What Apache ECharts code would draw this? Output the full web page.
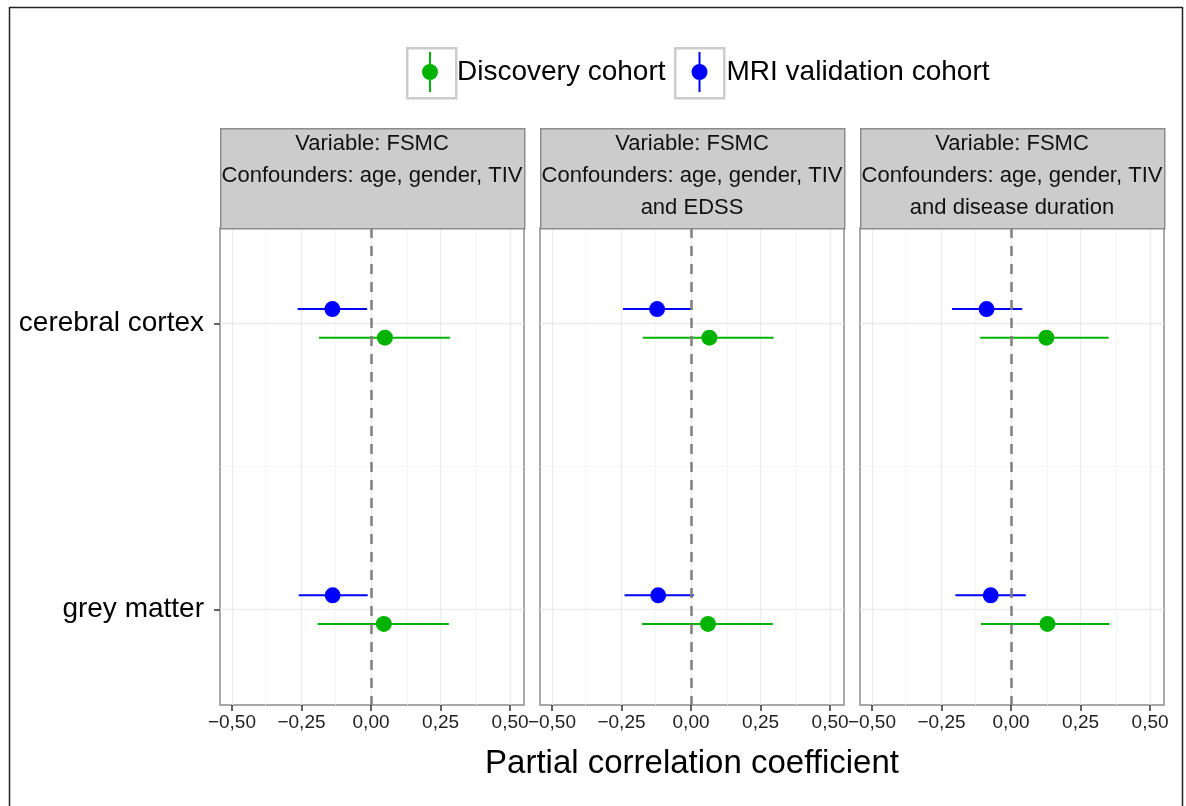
<!DOCTYPE html>
<html>
<head>
<meta charset="utf-8">
<script src="https://cdn.jsdelivr.net/npm/echarts@6.0.0/dist/echarts.min.js"></script>
<style>
  html, body { margin: 0; padding: 0; background: #fff; }
  #chart { width: 1186px; height: 806px; }
</style>
</head>
<body>
<div id="chart"></div>
<script>
// ---------------- data ----------------
const categories = ['cerebral cortex', 'grey matter'];
const catPos = [1, 4];                       // positions of the two rows on the hidden row scale
const panelTitles = [
  ['Variable: FSMC', 'Confounders: age, gender, TIV'],
  ['Variable: FSMC', 'Confounders: age, gender, TIV', 'and EDSS'],
  ['Variable: FSMC', 'Confounders: age, gender, TIV', 'and disease duration']
];
const seriesNames = ['Discovery cohort', 'MRI validation cohort'];
// [panel][category]
const discoveryEst = [[0.050, 0.046], [0.066, 0.061], [0.127, 0.131]];
const discoveryLo  = [[-0.187, -0.192], [-0.173, -0.176], [-0.111, -0.108]];
const discoveryHi  = [[0.284, 0.280], [0.297, 0.294], [0.351, 0.354]];
const mriEst = [[-0.139, -0.138], [-0.122, -0.118], [-0.088, -0.073]];
const mriLo  = [[-0.264, -0.260], [-0.245, -0.239], [-0.212, -0.200]];
const mriHi  = [[-0.014, -0.012], [0.005, 0.010], [0.040, 0.053]];
const xTicks = [-0.5, -0.25, 0, 0.25, 0.5];
const xTickLabels = ['\u22120,50', '\u22120,25', '0,00', '0,25', '0,50'];

// ---------------- styling ----------------
const FONT = 'Liberation Sans, Arial, Helvetica, sans-serif';
const colors = ['#00b300', '#0000ff'];
const dodge = [0.15, -0.15];
const panelLeft = [220, 540, 860];
const panelWidth = 304;
const panelTop = 228;
const panelHeight = 477;
const stripTop = 128;
const stripHeight = 100;

const xMinor = [];
for (let i = 0; i < xTicks.length - 1; i++) xMinor.push((xTicks[i] + xTicks[i + 1]) / 2);
const yMinor = [(catPos[0] + catPos[1]) / 2];

const grids = [], xAxes = [], yAxes = [], series = [], graphics = [];

for (let p = 0; p < 3; p++) {
  grids.push({
    left: panelLeft[p], top: panelTop, width: panelWidth, height: panelHeight,
    show: true, backgroundColor: '#ffffff', borderColor: '#8c8c8c', borderWidth: 1.5
  });
  xAxes.push({
    type: 'value', gridIndex: p, min: -0.543, max: 0.55, position: 'bottom',
    axisLine: { show: false, onZero: false },
    splitLine: { show: false },
    axisTick: { show: true, customValues: xTicks, length: 6, lineStyle: { color: '#333', width: 1.5 } },
    axisLabel: {
      customValues: xTicks, margin: 8, color: '#222', fontSize: 19, fontFamily: FONT,
      formatter: v => { const i = xTicks.findIndex(t => Math.abs(t - v) < 1e-9); return i >= 0 ? xTickLabels[i] : ''; }
    },
    name: p === 1 ? 'Partial correlation coefficient' : '',
    nameLocation: 'middle', nameGap: 42,
    nameTextStyle: { fontSize: 33, color: '#000', fontFamily: FONT }
  });
  yAxes.push({
    type: 'value', gridIndex: p, min: 0, max: 5, inverse: true, position: 'left',
    axisLine: { show: false, onZero: false },
    splitLine: { show: false },
    axisTick: { show: p === 0, customValues: catPos, length: 6, lineStyle: { color: '#333', width: 1.5 } },
    axisLabel: {
      show: p === 0, customValues: catPos, margin: 16, color: '#000', fontSize: 28, fontFamily: FONT,
      formatter: v => { const i = catPos.indexOf(v); return i >= 0 ? categories[i] : ''; }
    }
  });

  // background grid lines
  const gl = [];
  xTicks.forEach(v => gl.push({ xAxis: v, lineStyle: { color: '#ebebeb', width: 1.3, type: 'solid' } }));
  xMinor.forEach(v => gl.push({ xAxis: v, lineStyle: { color: '#f2f2f2', width: 0.8, type: 'solid' } }));
  catPos.forEach(v => gl.push({ yAxis: v, lineStyle: { color: '#ebebeb', width: 1.3, type: 'solid' } }));
  yMinor.forEach(v => gl.push({ yAxis: v, lineStyle: { color: '#f2f2f2', width: 0.8, type: 'solid' } }));
  series.push({
    type: 'scatter', name: '_grid' + p, xAxisIndex: p, yAxisIndex: p, data: [], z: 1, silent: true,
    markLine: { z: 1, silent: true, symbol: ['none', 'none'], label: { show: false }, animation: false, data: gl }
  });
  // dashed zero reference line
  series.push({
    type: 'scatter', name: '_zero' + p, xAxisIndex: p, yAxisIndex: p, data: [], z: 3, silent: true,
    markLine: {
      z: 3, silent: true, symbol: ['none', 'none'], label: { show: false }, animation: false,
      lineStyle: { color: '#7f7f7f', width: 2.5, type: [10, 8] },
      data: [{ xAxis: 0 }]
    }
  });

  const ests = [discoveryEst[p], mriEst[p]];
  const los = [discoveryLo[p], mriLo[p]];
  const his = [discoveryHi[p], mriHi[p]];
  for (let s = 0; s < 2; s++) {
    const barData = categories.map((c, j) => [los[s][j], his[s][j], catPos[j] + dodge[s]]);
    const ptData = categories.map((c, j) => [ests[s][j], catPos[j] + dodge[s]]);
    series.push({
      type: 'custom', name: seriesNames[s], xAxisIndex: p, yAxisIndex: p, z: 2,
      itemStyle: { color: colors[s] },
      encode: { x: [0, 1], y: 2 },
      data: barData,
      renderItem: (params, api) => {
        const a = api.coord([api.value(0), api.value(2)]);
        const b = api.coord([api.value(1), api.value(2)]);
        return { type: 'line', shape: { x1: a[0], y1: a[1], x2: b[0], y2: b[1] },
                 style: { stroke: colors[s], lineWidth: 2 } };
      }
    });
    series.push({
      type: 'scatter', name: seriesNames[s], xAxisIndex: p, yAxisIndex: p, z: 4,
      symbol: 'circle', symbolSize: 16,
      itemStyle: { color: colors[s], opacity: 1 },
      data: ptData
    });
  }

  // facet strip
  graphics.push({
    type: 'rect', left: panelLeft[p], top: stripTop, z: 10,
    shape: { width: panelWidth, height: stripHeight },
    style: { fill: '#cccccc', stroke: '#8c8c8c', lineWidth: 1.5 }
  });
  panelTitles[p].forEach((line, k) => {
    graphics.push({
      type: 'text', z: 11,
      x: panelLeft[p] + panelWidth / 2, y: 144 + 32 * k,
      style: { text: line, fill: '#111', font: '22px ' + FONT, textAlign: 'center', textVerticalAlign: 'middle' }
    });
  });
}

// legend key boxes and outer frame
graphics.push({ type: 'rect', left: 406, top: 47, z: 0, shape: { width: 49, height: 50 },
  style: { fill: '#fff', stroke: '#cccccc', lineWidth: 2.5 } });
graphics.push({ type: 'rect', left: 674, top: 47, z: 0, shape: { width: 49, height: 50 },
  style: { fill: '#fff', stroke: '#cccccc', lineWidth: 2.5 } });
graphics.push({ type: 'rect', left: 7, top: 5, z: 0, shape: { width: 1173, height: 820 },
  style: { fill: 'none', stroke: '#222', lineWidth: 1.5 } });

const keyIcon = 'path://M7,0H9V40H7Z M8,12A8,8 0 1 1 8,28A8,8 0 1 1 8,12Z';

const option = {
  animation: false,
  backgroundColor: '#ffffff',
  grid: grids,
  xAxis: xAxes,
  yAxis: yAxes,
  legend: {
    left: 417, top: 47, itemWidth: 16, itemHeight: 40, itemGap: 26,
    data: seriesNames.map((n, i) => ({ name: n, icon: keyIcon, itemStyle: { color: colors[i] } })),
    textStyle: { fontSize: 28, color: '#000', fontFamily: FONT, padding: [0, 0, 0, 14] },
    selectedMode: false
  },
  graphic: graphics,
  series: series
};

const chart = echarts.init(document.getElementById('chart'), null, { renderer: 'canvas' });
chart.setOption(option);
</script>
</body>
</html>
